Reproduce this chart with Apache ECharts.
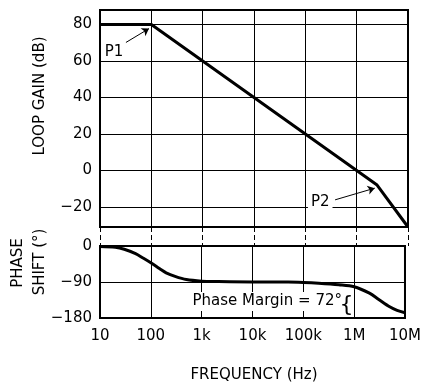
<!DOCTYPE html>
<html><head><meta charset="utf-8">
<script src="https://cdn.jsdelivr.net/npm/echarts@6/dist/echarts.min.js"></script>
<style>html,body{margin:0;padding:0;background:#fff}#c{width:424px;height:385px}</style>
</head><body><div id="c"></div>
<script>
// ---- data ----
const freqTicks = [10, 100, 1e3, 1e4, 1e5, 1e6, 1e7];
const freqTickLabels = ['10', '100', '1k', '10k', '100k', '1M', '10M'];
const gainTicks = [-20, 0, 20, 40, 60, 80];
const phaseTicks = [0, -90, -180];
const gainFreq = [10, 100, 2.5e6, 1e7];
const gainDb = [80, 80, -8, -31];
const phaseFreq = [10, 20, 30, 50, 70, 100, 150, 200, 300, 500, 1e3, 2e3, 1e4, 5e4, 1e5, 2e5, 5e5, 1e6, 2e6, 3e6, 5e6, 7e6, 1e7];
const phaseDeg = [-1, -3, -8, -19, -30, -42, -57, -67, -76, -84, -88, -89, -90, -90, -91, -93, -97, -102, -118, -133, -152, -161, -167];

const FONT = 'DejaVu Sans';
const BLK = '#000';
const fmtFreq = v => {
  for (let i = 0; i < freqTicks.length; i++) {
    if (Math.abs(Math.log10(v) - Math.log10(freqTicks[i])) < 1e-6) return freqTickLabels[i];
  }
  return '';
};
const fmtNum = v => (v < 0 ? '\u2212' + (-v) : '' + v);

const gainData = gainFreq.map((f, i) => [f, gainDb[i]]);
const phaseData = phaseFreq.map((f, i) => [f, phaseDeg[i]]);

const L = 100, W = 308;
const grids = [
  { left: L, top: 10, width: W, height: 217, show: true, borderColor: BLK, borderWidth: 2 },
  { left: L, top: 227, width: W, height: 19 },
  { left: L, top: 246, width: W, height: 72, show: true, borderColor: BLK, borderWidth: 2 }
];

function xAx(gi, showLabels, dashed) {
  return {
    type: 'log', logBase: 10, gridIndex: gi, min: 10, max: 1e7,
    axisLine: { show: false },
    axisTick: { show: false, customValues: freqTicks },
    axisLabel: { show: showLabels, customValues: freqTicks, formatter: fmtFreq,
      color: BLK, fontFamily: FONT, fontSize: 15, margin: 11 },
    splitLine: { show: true, lineStyle: { color: BLK, width: 1, type: dashed ? [5, 3] : 'solid' } }
  };
}

const option = {
  animation: false,
  backgroundColor: '#fff',
  grid: grids,
  xAxis: [xAx(0, false, false), xAx(1, false, true), xAx(2, true, false)],
  yAxis: [
    { type: 'value', gridIndex: 0, min: -31, max: 88,
      axisLine: { show: false }, axisTick: { show: false, customValues: gainTicks },
      axisLabel: { customValues: gainTicks, formatter: fmtNum, color: BLK, fontFamily: FONT, fontSize: 15, margin: 8 },
      splitLine: { show: true, lineStyle: { color: BLK, width: 1 } } },
    { type: 'value', gridIndex: 1, min: 0, max: 1, show: false },
    { type: 'value', gridIndex: 2, min: -180, max: 0,
      axisLine: { show: false }, axisTick: { show: false, customValues: phaseTicks },
      axisLabel: { customValues: phaseTicks, formatter: fmtNum, color: BLK, fontFamily: FONT, fontSize: 15, margin: 8 },
      splitLine: { show: true, lineStyle: { color: BLK, width: 1 } } }
  ],
  series: [
    { type: 'line', xAxisIndex: 0, yAxisIndex: 0, data: gainData, symbol: 'none',
      lineStyle: { color: BLK, width: 3 }, clip: true, z: 5,
      markLine: { silent: true, symbol: ['none', 'arrow'], symbolSize: 7, label: { show: false },
        lineStyle: { color: BLK, width: 1, type: 'solid' },
        data: [
          [{ coord: [32, 70.2] }, { coord: [90, 77.8] }],
          [{ coord: [3.8e5, -16.1] }, { coord: [2.25e6, -9.7] }]
        ] },
      markPoint: { silent: true, symbol: 'rect', symbolSize: 0,
        label: { show: true, position: 'inside', formatter: '{b}', color: BLK, fontFamily: FONT, fontSize: 15 },
        data: [
          { name: 'P1', coord: [18.7, 64.7] },
          { name: 'P2', coord: [1.95e5, -17.2], label: { backgroundColor: '#fff', padding: [1, 3] } }
        ] } },
    { type: 'line', xAxisIndex: 2, yAxisIndex: 2, data: phaseData, symbol: 'none', smooth: 0.3,
      lineStyle: { color: BLK, width: 3 }, z: 5,
      markLine: { silent: true, symbol: ['none', 'none'], label: { show: false },
        lineStyle: { color: BLK, width: 1, type: 'solid' },
        data: [[{ coord: [1e6, -104] }, { coord: [1e6, -180] }]] },
      markPoint: { silent: true, symbol: 'rect', symbolSize: 0,
        data: [
          { name: 'Phase Margin = 72°', coord: [1.95e4, -139],
            label: { show: true, position: 'inside', formatter: '{b}', color: BLK, fontFamily: FONT, fontSize: 15,
              backgroundColor: '#fff', padding: [2, 2] } },
          { name: '{', coord: [7.1e5, -148],
            label: { show: true, position: 'inside', formatter: '{b}', color: BLK, fontFamily: FONT, fontSize: 22 } }
        ] } }
  ],
  graphic: [
    { type: 'text', x: 40, y: 96, rotation: Math.PI / 2,
      style: { text: 'LOOP GAIN (dB)', fill: BLK, font: '15px "DejaVu Sans"', textAlign: 'center', textVerticalAlign: 'middle' } },
    { type: 'text', x: 18, y: 263, rotation: Math.PI / 2,
      style: { text: 'PHASE', fill: BLK, font: '15px "DejaVu Sans"', textAlign: 'center', textVerticalAlign: 'middle' } },
    { type: 'text', x: 40, y: 262, rotation: Math.PI / 2,
      style: { text: 'SHIFT (°)', fill: BLK, font: '15px "DejaVu Sans"', textAlign: 'center', textVerticalAlign: 'middle' } },
    { type: 'text', x: 254, y: 375,
      style: { text: 'FREQUENCY (Hz)', fill: BLK, font: '15px "DejaVu Sans"', textAlign: 'center', textVerticalAlign: 'middle' } }
  ]
};
echarts.init(document.getElementById('c')).setOption(option);
</script></body></html>
